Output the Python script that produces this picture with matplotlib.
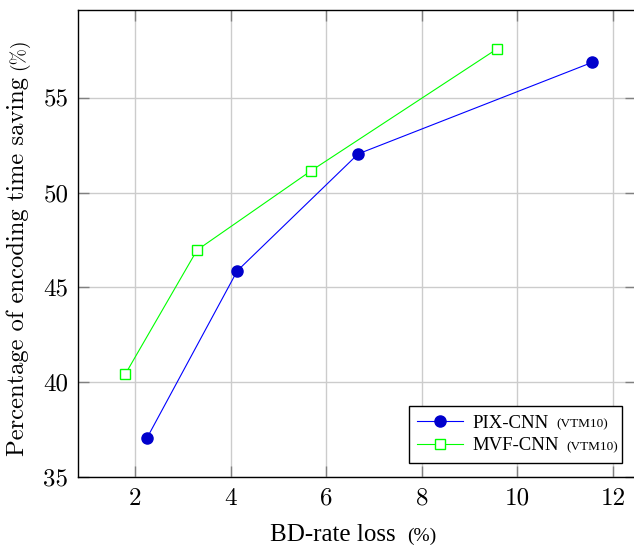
import matplotlib
matplotlib.use("Agg")
import matplotlib.pyplot as plt
from matplotlib.transforms import IdentityTransform

# data
pix_x = [2.25, 4.14, 6.67, 11.57]
pix_y = [37.03, 45.87, 52.05, 56.89]
mvf_x = [1.80, 3.30, 5.68, 9.57]
mvf_y = [40.42, 46.97, 51.15, 57.59]

x_ticks = [2, 4, 6, 8, 10, 12]
y_ticks = [35, 40, 45, 50, 55]

plt.rcParams['font.family'] = ['Liberation Serif', 'DejaVu Serif']
px = IdentityTransform()  # pixel coords, origin bottom-left
H = 546

fig = plt.figure(figsize=(6.34, 5.46), dpi=100)
ax = fig.add_axes([78 / 634, 1 - 476.7 / H, 558 / 634, (476.7 - 10) / H])

ax.plot(pix_x, pix_y, color="#0000ff", lw=0.8, marker="o", markersize=8,
        markerfacecolor="#0000cc", markeredgecolor="#0000cc", label="PIX-CNN")
ax.plot(mvf_x, mvf_y, color="#00ff00", lw=0.8, marker="s", markersize=7,
        markerfacecolor="white", markeredgecolor="#00ff00", markeredgewidth=1.0,
        label="MVF-CNN")

ax.set_xlim(0.81, 12.48)
ax.set_ylim(35, 59.65)
ax.set_xticks(x_ticks)
ax.set_yticks(y_ticks)

ax.grid(True, color="#cccccc", lw=1.0)
ax.set_axisbelow(True)
ax.tick_params(direction="in", length=8, width=1.0, color="#808080",
               top=True, right=True, labelsize=18)
ax.tick_params(axis="x", pad=8)
ax.tick_params(axis="y", pad=7)
for lab in ax.get_xticklabels() + ax.get_yticklabels():
    lab.set_fontfamily("cmr10")
for s in ax.spines.values():
    s.set_linewidth(1.0)
    s.set_color("black")

# axis titles (main text + smaller "(%)")
xlab = fig.text(270, H - 541, "BD-rate loss", fontsize=18, ha="left",
                va="baseline", transform=px)
ylab = fig.text(24, H - 456, "Percentage of encoding time saving", fontsize=17.7,
                family="cmr10", rotation=90, rotation_mode="anchor",
                ha="left", va="baseline", transform=px)

leg = ax.legend(loc="upper left", bbox_to_anchor=(409, H - 406, 213, 0),
                bbox_transform=px, mode="expand", fontsize=13.5, fancybox=False,
                edgecolor="black", framealpha=1, borderaxespad=0,
                handlelength=2.45, handletextpad=0.5, labelspacing=0.3,
                borderpad=0.45)
leg.get_frame().set_linewidth(1.0)

# small bits placed after the main text
fig.canvas.draw()
r = fig.canvas.get_renderer()
bb = xlab.get_window_extent(r)
fig.text(bb.x1 + 12, H - 541, "(%)", fontsize=14, ha="left", va="baseline",
         transform=px)
bb = ylab.get_window_extent(r)
fig.text(24, bb.y1 + 7, "(%)", fontsize=14, family="cmr10", rotation=90,
         rotation_mode="anchor", ha="left", va="baseline", transform=px)
for t in leg.get_texts():
    bb = t.get_window_extent(r)
    fig.text(bb.x1 + 7, bb.y0 + 4, "(VTM10)", fontsize=9.5,
             ha="left", va="baseline", transform=px)

fig.savefig("out.png", dpi=100)
